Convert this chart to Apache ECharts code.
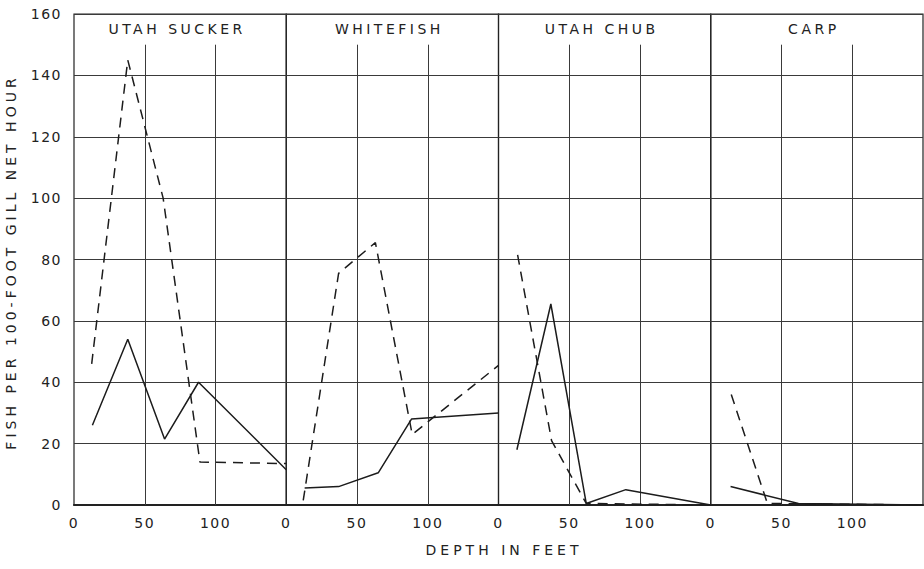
<!DOCTYPE html>
<html><head><meta charset="utf-8">
<script src="https://cdn.jsdelivr.net/npm/echarts@6/dist/echarts.min.js"></script>
<style>html,body{margin:0;padding:0;background:#fff}#chart{width:924px;height:569px}</style>
</head><body><div id="chart"></div>
<script>
// ---- data ----
const panelTitles = ['UTAH SUCKER', 'WHITEFISH', 'UTAH CHUB', 'CARP'];
const xAxisTitle = 'DEPTH IN FEET';
const yAxisTitle = 'FISH PER 100-FOOT GILL NET HOUR';
const xMin = 0, xMax = 150, xInterval = 50;
const yMin = 0, yMax = 160, yInterval = 20;
const gridXTicks = [50, 100];   // inner vertical grid lines
const gridXTop = 150;            // vertical grid lines stop here

// [depth, fish per net hour]
const suckerSolid  = [[13, 26], [38, 54], [64, 21.5], [88, 40], [150, 11.5]];
const suckerDashed = [[12.5, 46], [38, 145], [63, 100], [89, 14], [150, 13.5]];
const whitefishSolid  = [[13, 5.5], [37, 6], [65, 10.5], [88.5, 28], [150, 30]];
const whitefishDashed = [[12, 1.5], [37, 75.5], [63, 85.5], [89, 23], [150, 45.5]];
const chubSolid  = [[13, 18], [37, 65.5], [62, 0.5], [90, 5], [150, 0]];
const chubDashed = [[13.5, 81.5], [37.5, 21], [62, 0.5], [150, 0]];
const carpSolid  = [[14, 6], [62, 0.5], [150, 0]];
const carpDashed = [[14.5, 36], [40, 0.5], [150, 0]];

const solidSets  = [suckerSolid, whitefishSolid, chubSolid, carpSolid];
const dashedSets = [suckerDashed, whitefishDashed, chubDashed, carpDashed];

// ---- layout / style ----
const plotLeft = 74, plotRight = 923, plotTop = 14, plotBottom = 505;
const panelW = (plotRight - plotLeft) / 4;
const ink = '#1c1c1c', gridCol = '#3a3a3a';
const FONT = 'DejaVu Sans';

const grids = [], xAxes = [], yAxes = [], series = [], graphics = [];
for (let i = 0; i < 4; i++) {
  grids.push({
    left: plotLeft + i * panelW, width: panelW, top: plotTop, height: plotBottom - plotTop,
    show: true, borderColor: '#222', borderWidth: 1.2, backgroundColor: 'transparent', containLabel: false
  });
  xAxes.push({
    type: 'value', gridIndex: i, min: xMin, max: xMax, interval: xInterval,
    axisLine: { show: true, onZero: false, lineStyle: { color: '#222', width: 2.2 } },
    axisTick: { show: false },
    splitLine: { show: false },
    axisLabel: { show: true, showMaxLabel: false, margin: 11, fontSize: 14, color: '#222', fontFamily: FONT }
  });
  yAxes.push({
    type: 'value', gridIndex: i, min: yMin, max: yMax, interval: yInterval,
    axisLine: { show: false }, axisTick: { show: false },
    splitLine: { show: true, lineStyle: { color: gridCol, width: 1 } },
    axisLabel: { show: i === 0, margin: 12, fontSize: 14, color: '#222', fontFamily: FONT }
  });
  series.push({
    type: 'line', xAxisIndex: i, yAxisIndex: i, data: solidSets[i],
    symbol: 'none', animation: false, z: 5,
    lineStyle: { color: ink, width: 1.5, type: 'solid' },
    markLine: {
      silent: true, symbol: 'none', animation: false, z: 1,
      label: { show: false },
      lineStyle: { color: gridCol, width: 1, type: 'solid' },
      data: gridXTicks.map(v => [{ coord: [v, yMin] }, { coord: [v, gridXTop] }])
    }
  });
  series.push({
    type: 'line', xAxisIndex: i, yAxisIndex: i, data: dashedSets[i],
    symbol: 'none', animation: false, z: 5,
    lineStyle: { color: ink, width: 1.5, type: [10, 7] }
  });
  graphics.push({
    type: 'text', x: plotLeft + (i + 0.5) * panelW - 3, y: 29,
    style: { text: panelTitles[i], fill: '#222', font: '14px "' + FONT + '"',
             align: 'center', verticalAlign: 'middle', textAlign: 'center', textVerticalAlign: 'middle' }
  });
}
graphics.push({
  type: 'text', x: 504, y: 550,
  style: { text: xAxisTitle, fill: '#222', font: '14px "' + FONT + '"',
           align: 'center', verticalAlign: 'middle', textAlign: 'center', textVerticalAlign: 'middle' }
});
graphics.push({
  type: 'text', x: 11, y: 262, rotation: Math.PI / 2,
  style: { text: yAxisTitle, fill: '#222', font: '14px "' + FONT + '"',
           align: 'center', verticalAlign: 'middle', textAlign: 'center', textVerticalAlign: 'middle' }
});

const chart = echarts.init(document.getElementById('chart'), null, { renderer: 'svg' });
chart.setOption({
  animation: false,
  backgroundColor: '#fff',
  grid: grids, xAxis: xAxes, yAxis: yAxes, series: series, graphic: graphics
});

function applySpacing() {
  document.querySelectorAll('#chart svg text').forEach(t => {
    const s = t.textContent;
    let ls = 3.5;
    if (/^\d+$/.test(s)) ls = 1.5;
    else if (s === xAxisTitle || s === yAxisTitle) ls = 4;
    t.style.letterSpacing = ls + 'px';
  });
}
chart.on('finished', applySpacing);
setTimeout(applySpacing, 50);
</script>
</body></html>
